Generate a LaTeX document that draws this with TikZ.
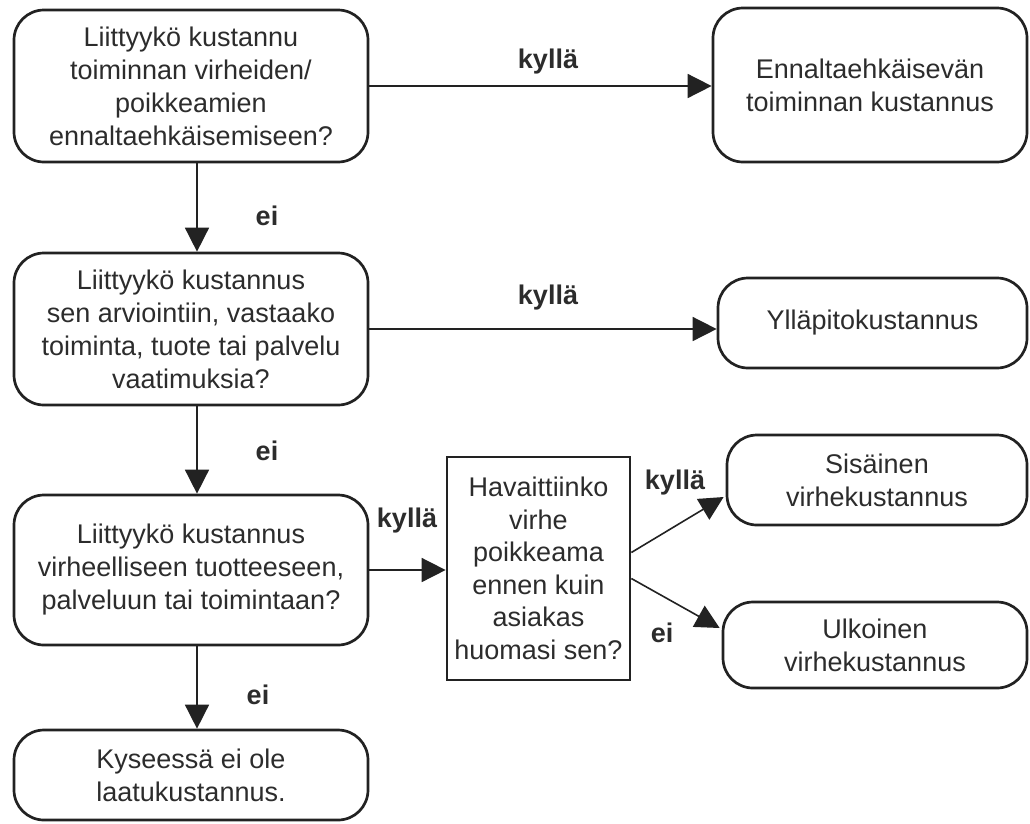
\documentclass[tikz,border=0pt]{standalone}
\usepackage{fontspec}
\setmainfont{Liberation Sans}
\usetikzlibrary{arrows.meta}
\definecolor{ink}{HTML}{222222}
\definecolor{txt}{HTML}{2C2C2C}
\begin{document}
\begin{tikzpicture}[x=1pt,y=-1pt,
  box/.style={draw=ink, line width=2.7pt, rounded corners=30pt, align=center, text=txt,
    font=\fontsize{27}{33}\selectfont, inner sep=0pt},
  qbox/.style={draw=ink, line width=2.7pt, align=center, text=txt,
    font=\fontsize{27}{32.5}\selectfont, inner sep=0pt},
  conn/.style={draw=ink, line width=1.6pt, -{Triangle[length=24pt,width=24pt]}},
  lab/.style={font=\bfseries\fontsize{27}{32}\selectfont, text=txt, inner sep=0pt}]
\useasboundingbox (0,0) rectangle (1030,823);

\node[box, minimum width=354pt, minimum height=152pt] (b1) at (191,86)
  {Liittyykö kustannu\\toiminnan virheiden/\\poikkeamien\\ennaltaehkäisemiseen?};
\node[box, minimum width=314pt, minimum height=154pt] (en) at (870,85)
  {Ennaltaehkäisevän\\toiminnan kustannus};
\node[box, minimum width=354pt, minimum height=152pt] (b3) at (191,329)
  {Liittyykö kustannus\\sen arviointiin, vastaako\\toiminta, tuote tai palvelu\\vaatimuksia?};
\node[box, minimum width=309pt, minimum height=90pt] (yp) at (872.5,323)
  {Ylläpitokustannus};
\node[box, minimum width=354pt, minimum height=150pt] (b5) at (191,570)
  {Liittyykö kustannus\\virheelliseen tuotteeseen,\\palveluun tai toimintaan?};
\node[qbox, minimum width=183pt, minimum height=223pt] (hv) at (538.5,568.5)
  {Havaittiinko\\virhe\\poikkeama\\ennen kuin\\asiakas\\huomasi sen?};
\node[box, minimum width=300pt, minimum height=90pt] (si) at (877,480)
  {Sisäinen\\virhekustannus};
\node[box, minimum width=304pt, minimum height=86pt] (ul) at (875,645)
  {Ulkoinen\\virhekustannus};
\node[box, minimum width=354pt, minimum height=90pt] (bt) at (191,775)
  {Kyseessä ei ole\\laatukustannus.};

\draw[conn] (b1.east) -- (b1.east -| en.west);
\draw[conn] ([xshift=6pt]b1.south) -- ([xshift=6pt]b3.north);
\draw[conn] (b3.east) -- (b3.east -| yp.west);
\draw[conn] ([xshift=6pt]b3.south) -- ([xshift=6pt]b5.north);
\draw[conn] (b5.east) -- (b5.east -| hv.west);
\draw[conn] ([xshift=6pt]b5.south) -- ([xshift=6pt]bt.north);
\draw[conn] ([yshift=16pt]hv.east) -- ([xshift=-2pt,yshift=-17pt]si.west);
\draw[conn] ([yshift=-10pt]hv.east) -- ([xshift=-2pt,yshift=17pt]ul.west);

\node[lab] (l1) at (548,62) {kyllä};
\node[lab] (l2) at (267,216) {ei};
\node[lab] (l3) at (548,298) {kyllä};
\node[lab] (l4) at (267,451) {ei};
\node[lab] (l5) at (407,521) {kyllä};
\node[lab] (l6) at (675,483) {kyllä};
\node[lab] (l7) at (662,633) {ei};
\node[lab] (l8) at (258,695) {ei};
\end{tikzpicture}
\end{document}
